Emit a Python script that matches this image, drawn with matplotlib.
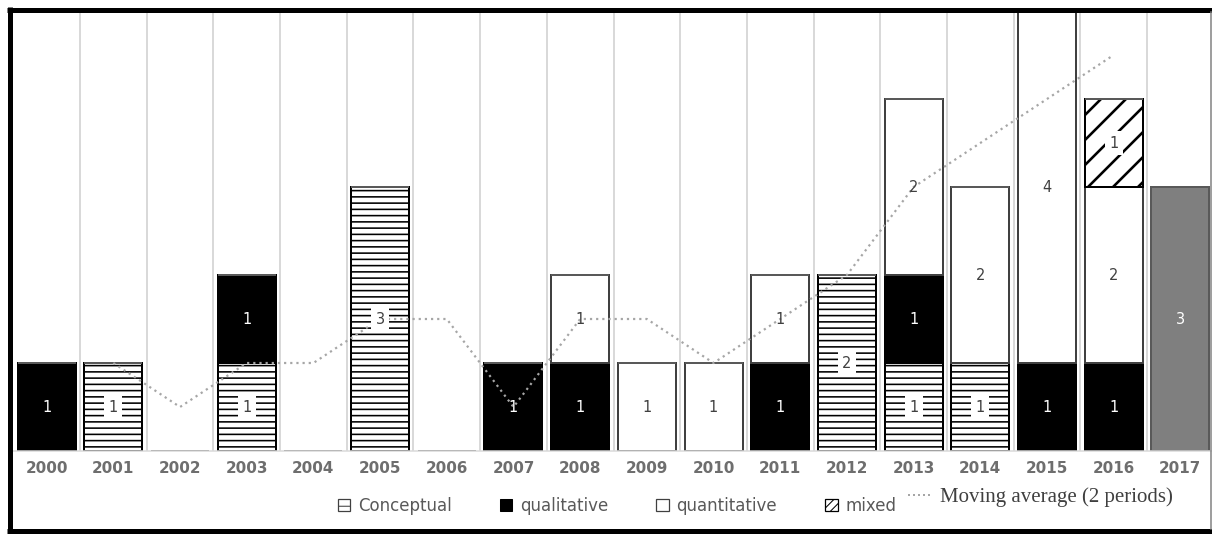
import numpy as np
import matplotlib.pyplot as plt
from matplotlib.patches import Patch
from matplotlib.lines import Line2D

years = [str(y) for y in range(2000, 2018)]
conceptual = [0, 1, 0, 1, 0, 3, 0, 0, 0, 0, 0, 0, 2, 1, 1, 0, 0, 0]
qualitative = [1, 0, 0, 1, 0, 0, 0, 1, 1, 0, 0, 1, 0, 1, 0, 1, 1, 0]
quantitative = [0, 0, 0, 0, 0, 0, 0, 0, 1, 1, 1, 1, 0, 2, 2, 4, 2, 0]
mixed = [0, 0, 0, 0, 0, 0, 0, 0, 0, 0, 0, 0, 0, 0, 0, 0, 1, 0]
year_2017 = [0, 0, 0, 0, 0, 0, 0, 0, 0, 0, 0, 0, 0, 0, 0, 0, 0, 3]
moving_avg = [np.nan, 1, 0.5, 1, 1, 1.5, 1.5, 0.5, 1.5, 1.5, 1, 1.5, 2, 3, 3.5, 4, 4.5, np.nan]

DPI = 75
W, H = 1212, 534
px = 72 / DPI  # points per pixel

fig = plt.figure(figsize=(W / DPI, H / DPI), dpi=DPI)
ax = fig.add_axes([13.3 / W, 1 - 451 / H, 1200.4 / W, 440 / H])

x = np.arange(len(years))
bw = 0.87
bottom = np.zeros(len(years))

# series: values, face, edge, hatch, label colour, white box
series = [
    (conceptual, 'white', 'black', '--', '#404040', True),
    (qualitative, 'black', 'black', None, 'white', False),
    (quantitative, 'white', '#404040', None, '#404040', False),
    (mixed, 'white', 'black', '/', '#404040', True),
    (year_2017, '#7f7f7f', '#595959', None, 'white', False),
]

for vals, fc, ec, hatch, tc, box in series:
    vals = np.array(vals, dtype=float)
    lw_h = 2.6 * px if hatch == '/' else 1.6 * px
    with plt.rc_context({'hatch.linewidth': lw_h}):
        ax.bar(x, vals, bw, bottom=bottom, color=fc, edgecolor=ec,
               hatch=hatch, linewidth=2 * px, zorder=2)
    for i, v in enumerate(vals):
        if v > 0:
            kw = {}
            if box:
                kw['bbox'] = dict(boxstyle='square,pad=0.3', fc='white', ec='none')
            ax.text(x[i], bottom[i] + v / 2, f'{int(v)}', ha='center', va='center',
                    fontsize=14, color=tc, zorder=5, **kw)
    bottom += vals

ax.plot(x, moving_avg, color='#a6a6a6', linewidth=2.2 * px,
        linestyle=(0, (1, 1.8)), zorder=4)

ax.set_xlim(-0.5, len(years) - 0.5)
ax.set_ylim(0, 5.0)
ax.set_xticks(x)
ax.set_xticklabels(years, fontsize=14.5, color='#6e6e6e', fontweight='bold')
ax.tick_params(axis='x', length=0, pad=10 * px)
ax.set_yticks([])
ax.set_xticks(np.arange(0.5, len(years) - 0.5), minor=True)
ax.tick_params(axis='x', which='minor', length=0)
ax.grid(True, which='minor', axis='x', color='#d9d9d9', linewidth=2 * px, zorder=0)
ax.set_axisbelow(True)
for s in ['top', 'left', 'right']:
    ax.spines[s].set_visible(False)
ax.spines['bottom'].set_color('#d9d9d9')
ax.spines['bottom'].set_linewidth(1.5 * px)

handles = [
    Patch(facecolor='white', edgecolor='#404040', hatch='-', linewidth=1.2),
    Patch(facecolor='black', edgecolor='black'),
    Patch(facecolor='white', edgecolor='#404040', linewidth=1.2),
    Patch(facecolor='white', edgecolor='black', hatch='///', linewidth=1.2),
]
leg1 = fig.legend(handles, ['Conceptual', 'qualitative', 'quantitative', 'mixed'],
                  loc='center', bbox_to_anchor=(617 / W, 1 - 506 / H), ncol=4,
                  frameon=False, fontsize=16, labelcolor='#595959',
                  handlelength=0.75, handleheight=0.75, handletextpad=0.45,
                  columnspacing=2.9, borderpad=0, borderaxespad=0)

line_handle = Line2D([], [], color='#a6a6a6', linewidth=2 * px, linestyle=(0, (1, 1.5)))
leg2 = fig.legend([line_handle], ['Moving average (2 periods)'],
                  loc='center left', bbox_to_anchor=(908 / W, 1 - 497 / H),
                  frameon=False, handlelength=1.2, handletextpad=0.35,
                  borderpad=0, borderaxespad=0,
                  prop={'family': 'Liberation Serif', 'size': 20})
for t in leg2.get_texts():
    t.set_color('#404040')

# outer frame
bl = 5 * px
for xs, ys in [([9.5, 9.5], [7, 533]), ([7, 1212], [9.5, 9.5]), ([7, 1212], [531, 531])]:
    fig.add_artist(Line2D([v / W for v in xs], [1 - v / H for v in ys],
                          color='black', linewidth=bl, solid_capstyle='butt'))
fig.add_artist(Line2D([1211 / W, 1211 / W], [1 - 12 / H, 1 - 529 / H],
                      color='#808080', linewidth=1.5 * px))

fig.savefig('out.png', dpi=DPI)
